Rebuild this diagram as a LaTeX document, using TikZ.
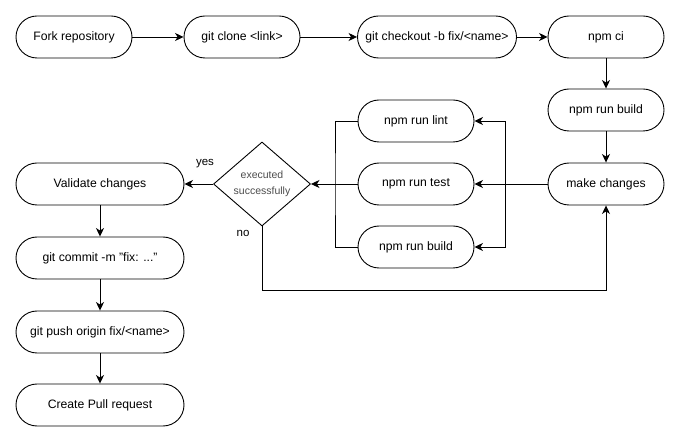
\documentclass[tikz,border=0pt]{standalone}
\usepackage{fontspec}
\setmainfont{Liberation Sans}
\usepackage{tikz}
\usetikzlibrary{positioning,arrows.meta,calc,shapes.geometric}
\usepackage{xcolor}

\begin{document}
\begin{tikzpicture}[x=1pt,y=-1pt,>={Stealth[length=8.5pt,width=8pt,inset=2.5pt]},
  line width=0.9pt,
  pill/.style={draw,rounded corners=21pt,minimum width=116pt,minimum height=42pt,inner sep=2pt,font=\fontsize{12.2}{14}\selectfont},
  cond/.style={draw,diamond,aspect=1.15,inner sep=0pt,minimum width=97pt,minimum height=84pt,align=center,font=\fontsize{10.5}{16}\selectfont,text=black!70},
  lbl/.style={font=\fontsize{11.5}{13}\selectfont}]
\useasboundingbox (0,0) rectangle (680,443);
\node[pill] (fork) at (74,37) {Fork repository};
\node[pill] (clone) at (242,37) {git clone <link>};
\node[pill,minimum width=159pt] (checkout) at (437,37) {git checkout -b fix/<name>};
\node[pill] (ci) at (606,37) {npm ci};
\node[pill] (build) at (606,110) {npm run build};
\node[pill] (changes) at (606,184) {make changes};
\node[pill] (lint) at (416,121) {npm run lint};
\node[pill] (test) at (416,184) {npm run test};
\node[pill] (rbuild) at (416,247) {npm run build};
\node[cond] (check) at (262,184) {executed\\successfully};
\node[pill,minimum width=168pt] (validate) at (100,184) {Validate changes};
\node[pill,minimum width=168pt] (commit) at (100,258) {git commit -m "fix: ..."};
\node[pill,minimum width=168pt] (push) at (100,332) {git push origin fix/<name>};
\node[pill,minimum width=168pt] (pr) at (100,405) {Create Pull request};
\coordinate (rbus) at (505,184);
\coordinate (lbus) at (335,184);
\coordinate (back) at (262,290);
\draw[->] (fork) -- (clone);
\draw[->] (clone) -- (checkout);
\draw[->] (checkout) -- (ci);
\draw[->] (ci) -- (build);
\draw[->] (build) -- (changes);
\draw[->] (changes) -- (test);
\draw[->] (rbus) |- (lint);
\draw[->] (rbus) |- (rbuild);
\draw (lint) -| (lbus) |- (rbuild);
\draw[->] (test) -- (check);
\node[lbl] (yes) at (205,164) {yes};
\draw[->] (check) -- (validate);
\draw[->] (check.south) -- (back) -| (changes.south);
\node[lbl] (no) at (243,233) {no};
\draw[->] (validate) -- (commit);
\draw[->] (commit) -- (push);
\draw[->] (push) -- (pr);
\end{tikzpicture}
\end{document}
